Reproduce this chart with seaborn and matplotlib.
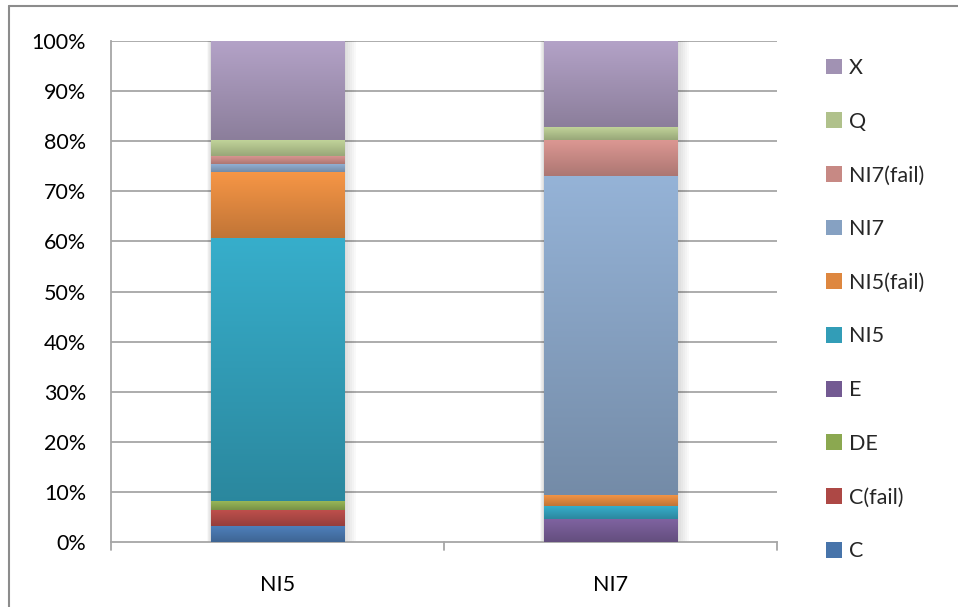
import numpy as np
import pandas as pd
import matplotlib
matplotlib.use("Agg")
import matplotlib.pyplot as plt
import matplotlib.colors as mcolors
from matplotlib.lines import Line2D
from matplotlib.patches import Patch
import seaborn as sns

# Share of each outcome per run (percent), bottom of the stack first
categories = ["NI5", "NI7"]
series = ["C", "C(fail)", "DE", "E", "NI5", "NI5(fail)", "NI7", "NI7(fail)", "Q", "X"]
values = {
    "C":         [3.2, 0.0],
    "C(fail)":   [3.2, 0.0],
    "DE":        [1.8, 0.0],
    "E":         [0.0, 4.6],
    "NI5":       [52.5, 2.5],
    "NI5(fail)": [13.2, 2.3],
    "NI7":       [1.6, 63.7],
    "NI7(fail)": [1.6, 7.2],
    "Q":         [3.2, 2.6],
    "X":         [19.7, 17.1],
}
colors = {
    "C": "#4F81BD", "C(fail)": "#C0504D", "DE": "#9BBB59", "E": "#8064A2",
    "NI5": "#37AECB", "NI5(fail)": "#F79646", "NI7": "#95B3D7",
    "NI7(fail)": "#DD9893", "Q": "#C3D69B", "X": "#B3A2C7",
}
ytick_labels = ["0%", "10%", "20%", "30%", "40%", "50%", "60%", "70%", "80%", "90%", "100%"]

sns.set_theme(style="white")
plt.rcParams["font.family"] = ["Lato", "DejaVu Sans"]
FS = 15.5

W, H = 958, 607
fig = plt.figure(figsize=(W / 100, H / 100), dpi=100)
ax = fig.add_axes([111 / W, 1 - 542 / H, 666 / W, 501 / H])

df = pd.DataFrame(values, index=categories)
pct = df.div(df.sum(axis=1), axis=0) * 100
cum = pct.cumsum(axis=1)

grid_color = "#A6A6A6"
for y in range(10, 101, 10):
    ax.axhline(y, color=grid_color, lw=1.3, zorder=0)

# stacked bars: draw cumulative totals from the top series down
bar_width = 0.4
for s in reversed(series):
    d = pd.DataFrame({"cat": categories, "val": cum[s].values})
    sns.barplot(data=d, x="cat", y="val", color=colors[s], width=bar_width,
                saturation=1, ax=ax, zorder=2, linewidth=0)

# soft shadow and vertical gradient fill for each segment
def shade(c, f):
    r = np.array(mcolors.to_rgb(c))
    return np.clip(r * f, 0, 1)

for i, cat in enumerate(categories):
    x0, x1 = i - bar_width / 2, i + bar_width / 2
    for k in range(6):
        off = 0.004 * (k + 1)
        ax.add_patch(plt.Rectangle((x0 - off * 0.5, 0), (x1 - x0) + off * 2.0, 100 + 0.15 * k,
                                   color="black", alpha=0.025, lw=0, zorder=1))
    bottom = 0.0
    for s in series:
        v = pct.loc[cat, s]
        if v <= 0:
            continue
        top_c = shade(colors[s], 1.0)
        bot_c = shade(colors[s], 0.78)
        t = np.linspace(0, 1, 64)[:, None]
        grad = (top_c[None, :] * (1 - t) + bot_c[None, :] * t)[:, None, :]
        ax.imshow(grad, extent=(x0, x1, bottom, bottom + v), aspect="auto",
                  origin="upper", zorder=3, interpolation="bilinear")
        bottom += v

ax.set_xlim(-0.5, 1.5)
ax.set_ylim(0, 100)
ax.set_xlabel("")
ax.set_ylabel("")
ax.set_yticks(np.arange(0, 101, 10))
ax.set_yticklabels(ytick_labels)
ax.set_xticks([0, 1])
ax.set_xticklabels(categories)
ax.tick_params(axis="y", length=5, width=1.3, color=grid_color, direction="out",
               labelsize=FS, pad=13, labelcolor="black")
ax.tick_params(axis="x", length=0, labelsize=FS, pad=24, labelcolor="black")
for sp in ["top", "right"]:
    ax.spines[sp].set_visible(False)
for sp in ["left", "bottom"]:
    ax.spines[sp].set_color(grid_color)
    ax.spines[sp].set_linewidth(1.3)

# category separators below the horizontal axis
for xs in [-0.5, 0.5, 1.5]:
    ax.plot([xs, xs], [0, -1.6], color=grid_color, lw=1.3, clip_on=False, zorder=4)

# legend, top series first
handles = [Patch(facecolor=shade(colors[s], 0.9), edgecolor="none", label=s)
           for s in reversed(series)]
fig.legend(handles=handles, loc="upper left", bbox_to_anchor=(826 / W, 1 - 58 / H),
           frameon=False, fontsize=FS, handlelength=0.75, handleheight=0.75,
           handletextpad=0.3, labelspacing=1.565, borderaxespad=0, borderpad=0)

# chart area outline
fig.add_artist(Line2D([8.5 / W, 8.5 / W], [0, 1 - 5.5 / H], transform=fig.transFigure,
                      color="#8C8C8C", lw=1.5))
fig.add_artist(Line2D([8.5 / W, 1], [1 - 5.5 / H, 1 - 5.5 / H], transform=fig.transFigure,
                      color="#8C8C8C", lw=1.5))

fig.savefig("out.png", dpi=100, facecolor="white")
